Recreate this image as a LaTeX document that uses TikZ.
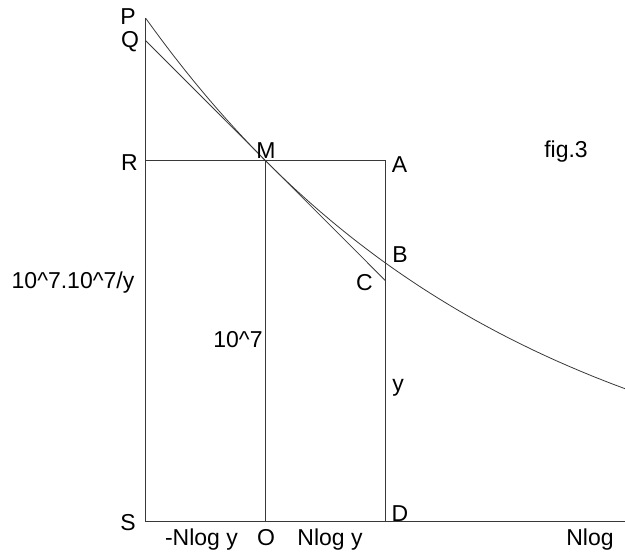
\documentclass[tikz,border=0pt]{standalone}
\usepackage{fontspec}
\setmainfont{Liberation Sans}
\begin{document}
\begin{tikzpicture}[x=1pt,y=-1pt,
  geo/.style={draw=black!78,line width=0.8pt},
  lbl/.style={anchor=base,inner sep=0pt,text=black,font=\fontsize{23}{27}\selectfont}]
\useasboundingbox (0,0) rectangle (625,554);
% key points
\coordinate (P) at (145.5,18);
\coordinate (Q) at (145.5,40.5);
\coordinate (R) at (145.5,160.7);
\coordinate (M) at (265.7,160.7);
\coordinate (A) at (385.7,160.7);
\coordinate (B) at (385.7,262.8);
\coordinate (C) at (385.7,280.9);
\coordinate (S) at (145.5,521.7);
\coordinate (O) at (265.7,521.7);
\coordinate (D) at (385.7,521.7);
\coordinate (E) at (625,521.7);
% frame
\draw[geo] (P) -- (S) -- (E);
\draw[geo] (R) -- (A) -- (D);
\draw[geo] (M) -- (O);
% tangent
\draw[geo] (Q) -- (C);
% curve
\draw[geo,domain=145.5:625,samples=120,smooth] plot ({\x},{521.7-503.7*exp(-0.002771*(\x-145.5))});
% labels
\node[lbl] (lP) at (128,24) {P};
\node[lbl] (lQ) at (130,47.5) {Q};
\node[lbl] (lR) at (129.5,170) {R};
\node[lbl] (lM) at (266,158) {M};
\node[lbl] (lA) at (399.5,172) {A};
\node[lbl] (lB) at (400,262) {B};
\node[lbl] (lC) at (364.5,290) {C};
\node[lbl] (lfig) at (566,157) {fig.3};
\node[lbl] (lrec) at (73,288) {10\^{}7.10\^{}7/y};
\node[lbl] (lten) at (238,347) {10\^{}7};
\node[lbl] (ly) at (398,391) {y};
\node[lbl] (lS) at (128,530) {S};
\node[lbl] (lD) at (400,521) {D};
\node[lbl] (lneg) at (201.5,545) {-Nlog y};
\node[lbl] (lO) at (266,545) {O};
\node[lbl] (lpos) at (330,545) {Nlog y};
\node[lbl] (lN) at (590,545) {Nlog};
\end{tikzpicture}
\end{document}
